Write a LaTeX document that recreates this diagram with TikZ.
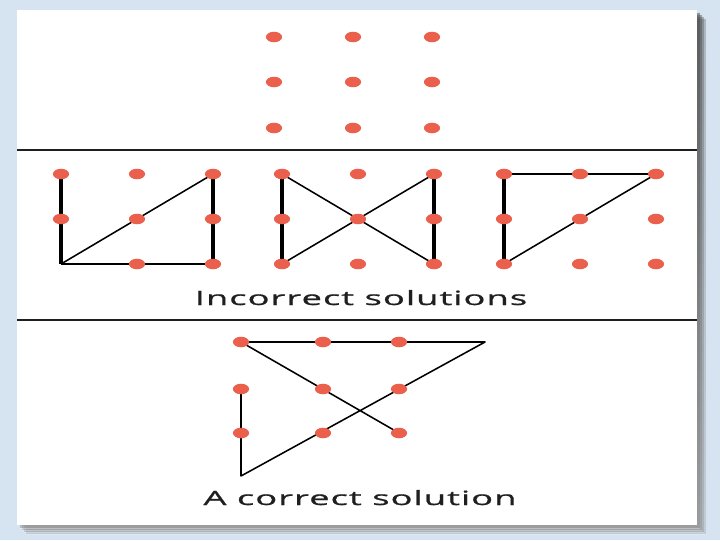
\documentclass[tikz,border=0pt]{standalone}
\usepackage{fontspec}
\newfontfamily\capfont[FakeStretch=1.85,LetterSpace=5,FakeBold=0.8]{Open Sans}
\usetikzlibrary{shapes.geometric, backgrounds}
\definecolor{dotred}{RGB}{235,96,76}
\definecolor{slideblue}{RGB}{214,228,242}
\definecolor{shade}{RGB}{120,132,148}

\begin{document}
\begin{tikzpicture}[x=0.025cm, y=-0.025cm, dot/.style={ellipse, fill=dotred, inner sep=0pt, minimum width=11.5pt, minimum height=7.5pt}, stroke/.style={line width=1.1pt, line join=round}, heavy/.style={line width=2.2pt}, rule/.style={line width=1.5pt, black!88}, caption/.style={anchor=base, text=black!88, font=\capfont\fontsize{14}{16}\selectfont}]

\useasboundingbox (0,0) rectangle (720,540);
\begin{scope}[on background layer]
\fill[slideblue] (0,0) rectangle (720,540);
\foreach \o/\a in {9/0.15, 7/0.2, 5/0.25, 3/0.3}{\fill[shade, opacity=\a] (17+\o,10+\o) rectangle (697+\o,525+\o);}
\fill[white] (17,10) rectangle (697,525);
\end{scope}
\draw[rule] (17,150) -- (697,150); \draw[rule] (17,320) -- (697,320);

% the nine dots
\foreach \i/\x in {1/274,2/353,3/432} \foreach \j/\y in {1/37,2/82,3/128} \node[dot] (p-\i-\j) at (\x,\y) {};

% incorrect solutions
\foreach \i/\x in {1/61,2/137,3/213} \foreach \j/\y in {1/174,2/219,3/264} {\ifnum\i\j=13 \else\node[dot] (a-\i-\j) at (\x,\y) {};\fi}
\coordinate (a-corner) at (61,264);
\foreach \i/\x in {1/282,2/358,3/434} \foreach \j/\y in {1/174,2/219,3/264} \node[dot] (b-\i-\j) at (\x,\y) {};
\foreach \i/\x in {1/504,2/580,3/656} \foreach \j/\y in {1/174,2/219,3/264} \node[dot] (c-\i-\j) at (\x,\y) {};
\node[caption] (wrong) at (361,305) {Incorrect solutions};

% a correct solution
\foreach \i/\x in {1/241,2/323,3/399} \foreach \j/\y in {1/342,2/389,3/433} \node[dot] (s-\i-\j) at (\x,\y) {};
\coordinate (s-tip) at (485,342); \coordinate (s-corner) at (241,476);
\node[caption] (right) at (360,505) {A correct solution};

\begin{scope}[on background layer]
\draw[heavy] (a-1-1.center) -- (a-corner); \draw[stroke] (a-corner) -- (a-3-3.center); \draw[stroke] (a-corner) -- (a-3-1.center); \draw[heavy] (a-3-1.center) -- (a-3-3.center);
\draw[heavy] (b-1-1.center) -- (b-1-3.center); \draw[stroke] (b-1-1.center) -- (b-3-3.center); \draw[stroke] (b-1-3.center) -- (b-3-1.center); \draw[heavy] (b-3-1.center) -- (b-3-3.center);
\draw[stroke] (c-1-1.center) -- (c-3-1.center); \draw[heavy] (c-1-1.center) -- (c-1-3.center); \draw[stroke] (c-1-3.center) -- (c-3-1.center);
\draw[stroke] (s-3-3.center) -- (s-1-1.center) -- (s-tip) -- (s-corner) -- (s-1-2.center);
\end{scope}
\end{tikzpicture}
\end{document}
